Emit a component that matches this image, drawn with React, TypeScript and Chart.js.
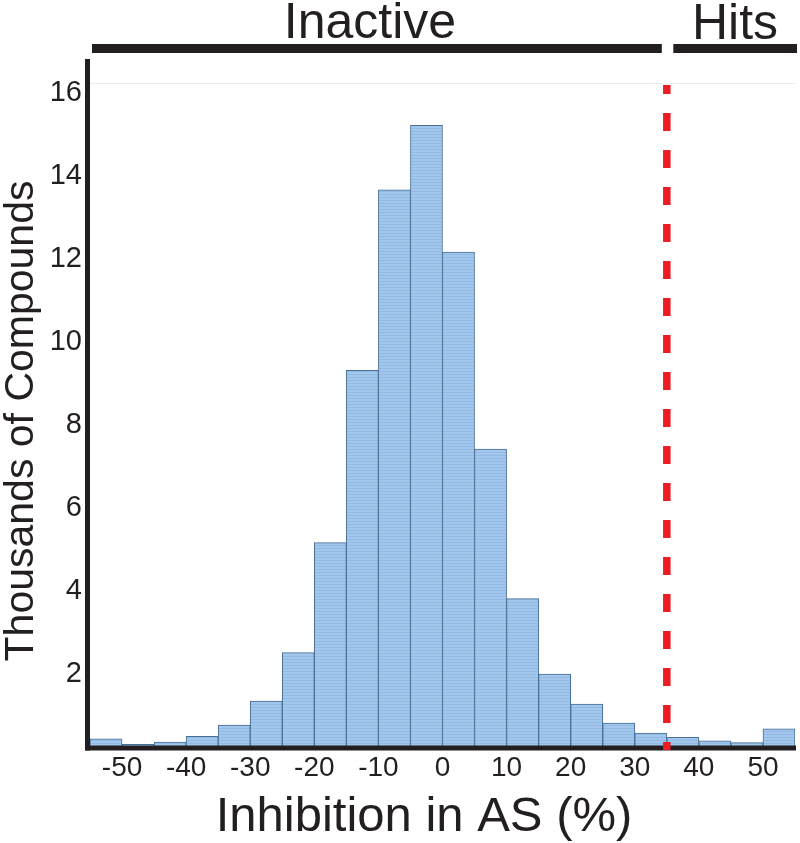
import React, { useEffect, useRef } from "react";
import { Chart, registerables } from "chart.js";

Chart.register(...registerables);

// Bin centres (% inhibition), 5-unit wide bins
const binCenters = [
  -52.5, -47.5, -42.5, -37.5, -32.5, -27.5, -22.5, -17.5, -12.5, -7.5, -2.5,
  2.5, 7.5, 12.5, 17.5, 22.5, 27.5, 32.5, 37.5, 42.5, 47.5, 52.5,
];
// Thousands of compounds per bin
const counts = [
  0.22, 0.09, 0.14, 0.28, 0.55, 1.13, 2.3, 4.95, 9.1, 13.45, 15.0,
  11.95, 7.2, 3.6, 1.78, 1.06, 0.6, 0.36, 0.26, 0.17, 0.13, 0.46,
];
const xTickValues = [-50, -40, -30, -20, -10, 0, 10, 20, 30, 40, 50];
const yTickValues = [2, 4, 6, 8, 10, 12, 14, 16];
const hitThreshold = 35;
const xTitle = "Inhibition in AS (%)";
const yTitle = "Thousands of Compounds";
const topLabels = ["Inactive", "Hits"];

const FONT = "'Liberation Sans', Arial, Helvetica, sans-serif";
const INK = "#231f20";

function makePattern(): CanvasPattern | string {
  const c = document.createElement("canvas");
  c.width = 4;
  c.height = 3;
  const g = c.getContext("2d");
  if (!g) return "#a0c4e8";
  g.fillStyle = "#a3c7ec";
  g.fillRect(0, 0, 4, 3);
  g.fillStyle = "#93bae2";
  g.fillRect(0, 2, 4, 1);
  const p = g.createPattern(c, "repeat");
  return p || "#a0c4e8";
}

const decorPlugin = {
  id: "decor",
  afterDatasetsDraw(chart: any) {
    const ctx = chart.ctx as CanvasRenderingContext2D;
    const xs = chart.scales.x;
    const area = chart.chartArea;
    ctx.save();
    // axis lines
    ctx.strokeStyle = INK;
    ctx.lineWidth = 5;
    ctx.beginPath();
    ctx.moveTo(area.left - 2.5, area.top);
    ctx.lineTo(area.left - 2.5, area.bottom + 2.5);
    ctx.stroke();
    ctx.beginPath();
    ctx.moveTo(area.left - 5, area.bottom);
    ctx.lineTo(area.right + 1, area.bottom);
    ctx.stroke();

    // threshold dashed line
    const tx = xs.getPixelForValue(hitThreshold);
    ctx.strokeStyle = "#ed1c24";
    ctx.lineWidth = 7.5;
    ctx.setLineDash([18, 19]);
    ctx.lineDashOffset = 9;
    ctx.beginPath();
    ctx.moveTo(tx, 85);
    ctx.lineTo(tx, area.bottom + 2);
    ctx.stroke();
    ctx.setLineDash([]);

    // top brackets
    ctx.fillStyle = INK;
    ctx.fillRect(92, 44, tx - 5 - 92, 9);
    ctx.fillRect(tx + 6.5, 44, 797 - (tx + 6.5), 9);
    ctx.font = `50px ${FONT}`;
    ctx.textAlign = "center";
    ctx.textBaseline = "alphabetic";
    ctx.fillText(topLabels[0], 370, 38);
    ctx.fillText(topLabels[1], 735, 39);

    // axis titles
    ctx.font = `49px ${FONT}`;
    ctx.fillText(xTitle, 424, 831);
    ctx.save();
    ctx.translate(33, 421);
    ctx.rotate(-Math.PI / 2);
    ctx.font = `41px ${FONT}`;
    ctx.fillText(yTitle, 0, 0);
    ctx.restore();
    ctx.restore();
  },
};

export default function App() {
  const ref = useRef<HTMLCanvasElement | null>(null);
  useEffect(() => {
    document.body.style.margin = "0";
    const canvas = ref.current;
    if (!canvas) return;
    const pattern = makePattern();
    const chart = new Chart(canvas, {
      type: "bar",
      data: {
        datasets: [
          {
            data: binCenters.map((x, i) => ({ x, y: counts[i] })),
            backgroundColor: pattern as any,
            borderColor: "#466e96",
            borderWidth: 1,
            barPercentage: 1,
            categoryPercentage: 1,
          },
        ],
      },
      options: {
        responsive: false,
        animation: false,
        events: [],
        layout: { padding: { top: 59, right: 5, left: 0, bottom: 0 } },
        plugins: { legend: { display: false }, tooltip: { enabled: false } },
        scales: {
          x: {
            type: "linear",
            min: -55,
            max: 55,
            offset: false,
            afterBuildTicks: (s: any) => {
              s.ticks = xTickValues.map((v) => ({ value: v }));
            },
            afterFit: (s: any) => {
              s.height = 95;
            },
            grid: { display: false, drawTicks: false },
            border: { display: false },
            ticks: {
              autoSkip: false,
              maxRotation: 0,
              padding: 3,
              color: INK,
              font: { family: FONT, size: 28 },
              callback: (v: any) => String(v),
            },
          },
          y: {
            type: "linear",
            min: 0,
            max: 16.6,
            afterBuildTicks: (s: any) => {
              s.ticks = yTickValues.map((v) => ({ value: v }));
            },
            afterFit: (s: any) => {
              s.width = 90;
            },
            grid: {
              drawTicks: false,
              color: (c: any) => (c.tick && c.tick.value === 16 ? "#ececec" : "rgba(0,0,0,0)"),
              lineWidth: 1,
            },
            border: { display: false },
            ticks: {
              padding: 8,
              labelOffset: 9,
              color: INK,
              font: { family: FONT, size: 29 },
              callback: (v: any) => String(v),
            },
          },
        },
      },
      plugins: [decorPlugin],
    });
    return () => chart.destroy();
  }, []);
  return (
    <div style={{ width: 800, height: 843 }}>
      <canvas ref={ref} width={800} height={843} style={{ display: "block" }} />
    </div>
  );
}
